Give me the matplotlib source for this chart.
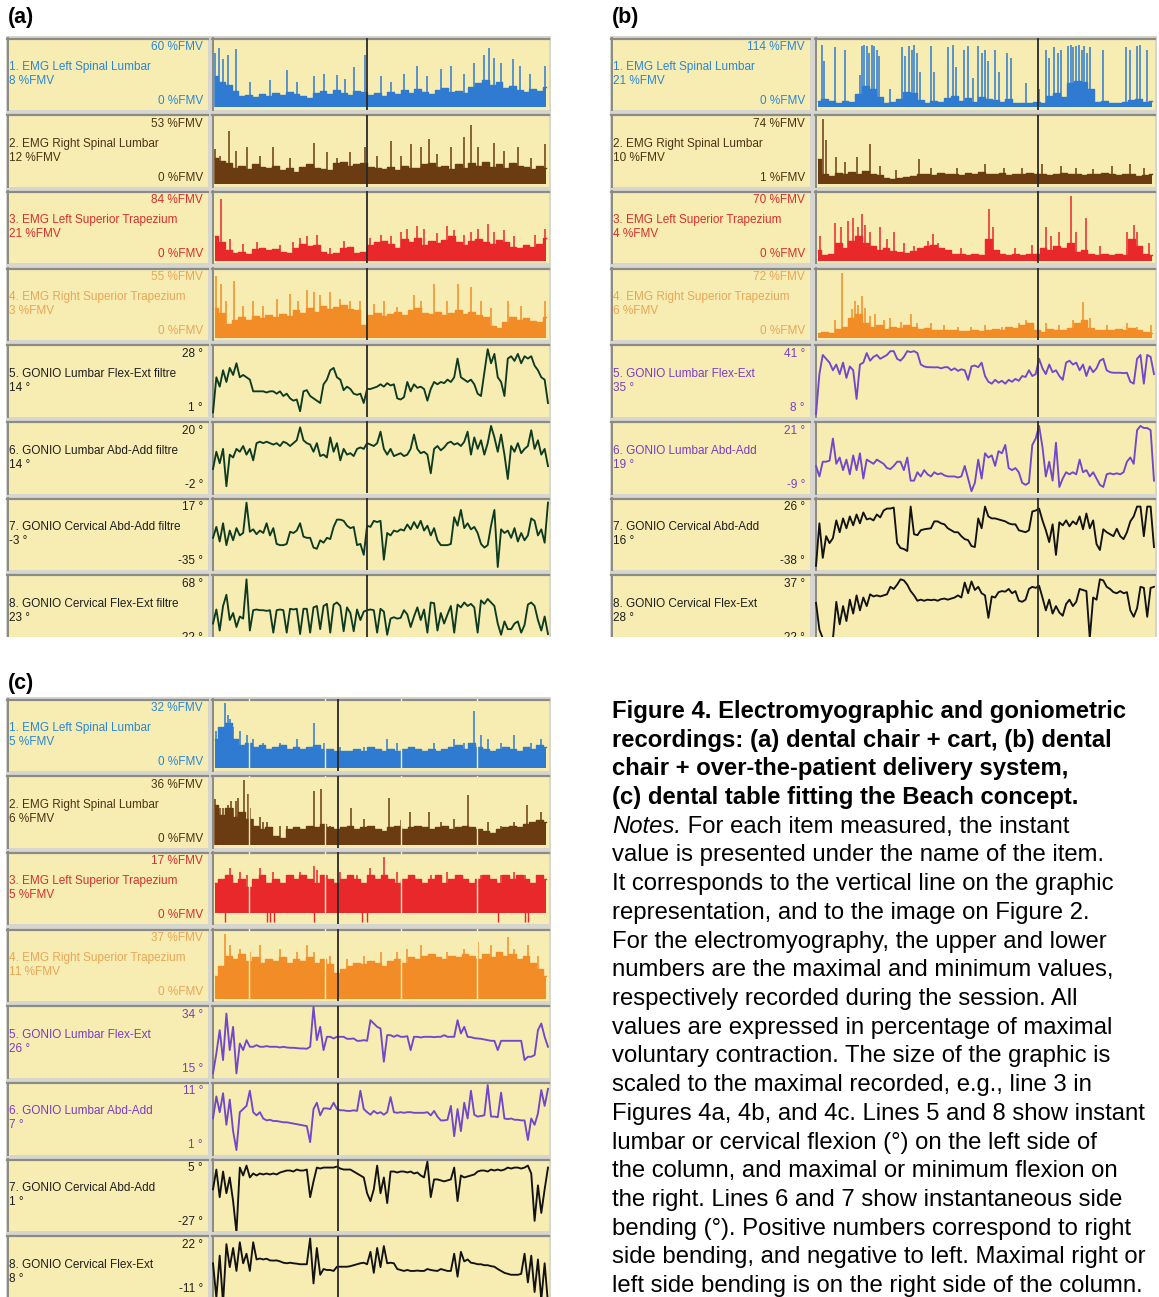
import matplotlib
matplotlib.use("Agg")
import matplotlib.pyplot as plt
import numpy as np
from matplotlib.patches import Rectangle

W, H = 1159, 1297
plt.rcParams['font.family'] = ['Liberation Sans', 'DejaVu Sans']

# ---------------- data ----------------
# labels
names_a = ["1. EMG Left Spinal Lumbar", "2. EMG Right Spinal Lumbar",
           "3. EMG Left Superior Trapezium", "4. EMG Right Superior Trapezium",
           "5. GONIO Lumbar Flex-Ext filtre", "6. GONIO Lumbar Abd-Add filtre",
           "7. GONIO Cervical Abd-Add filtre", "8. GONIO Cervical Flex-Ext filtre"]
names_bc = ["1. EMG Left Spinal Lumbar", "2. EMG Right Spinal Lumbar",
            "3. EMG Left Superior Trapezium", "4. EMG Right Superior Trapezium",
            "5. GONIO Lumbar Flex-Ext", "6. GONIO Lumbar Abd-Add",
            "7. GONIO Cervical Abd-Add", "8. GONIO Cervical Flex-Ext"]

a_hi = [60, 53, 84, 55, 28, 20, 17, 68]
a_lo = [0, 0, 0, 0, 1, -2, -35, -22]
a_now = [8, 12, 21, 3, 14, 14, -3, 23]
b_hi = [114, 74, 70, 72, 41, 21, 26, 37]
b_lo = [0, 1, 0, 0, 8, -9, -38, -22]
b_now = [21, 10, 4, 6, 35, 19, 16, 28]
c_hi = [32, 36, 17, 37, 34, 11, 5, 22]
c_lo = [0, 0, 0, 0, 15, 1, -27, -11]
c_now = [5, 6, 5, 11, 26, 7, 1, 8]

# cursor position, % of the trace width
a_cursor = 46.0
b_cursor = 65.6
c_cursor = 37.4
# gaps in the EMG records of (c)
c_gaps = [10.8, 33.4, 56.1, 78.8]

# EMG: body level (50 samples) + spikes (x %, height)
a1_body = [28, 22, 20, 14, 9, 10, 8, 11, 9, 12, 10, 13, 11, 9, 7, 12, 14, 11, 15, 12,
           10, 14, 13, 10, 12, 9, 13, 11, 15, 12, 16, 13, 11, 15, 17, 13, 14, 12, 18, 21,
           24, 20, 22, 17, 19, 15, 13, 16, 14, 18]
a1_sx = [0.5, 1.8, 3, 4.5, 6.8, 11, 17, 22, 25, 30, 33, 37, 39.5, 42, 45.5, 50, 53, 57, 61, 64,
         68, 71, 75, 78, 81, 82.5, 84, 86, 89.5, 91.5, 94.5, 99]
a1_sh = [50, 55, 44, 48, 54, 22, 24, 34, 22, 28, 30, 29, 25, 37, 48, 28, 22, 30, 38, 28,
         35, 38, 30, 40, 48, 55, 45, 40, 44, 38, 30, 38]

a2_body = [20, 18, 16, 12, 14, 11, 15, 13, 12, 14, 10, 12, 9, 13, 15, 12, 11, 10, 16, 17,
           14, 15, 16, 13, 12, 11, 13, 10, 14, 12, 12, 15, 16, 13, 14, 11, 15, 12, 16, 14,
           17, 13, 15, 12, 16, 14, 13, 11, 14, 12]
a2_sx = [0.5, 2, 4.7, 7, 10, 14, 18, 23, 30, 34, 37, 41, 45.5, 49, 53, 56, 59, 62, 64.5, 67,
         71, 75, 77, 79, 84, 87, 91, 95, 99]
a2_sh = [28, 22, 43, 26, 30, 22, 30, 20, 33, 25, 20, 25, 30, 22, 35, 22, 32, 30, 36, 24,
         30, 38, 48, 30, 33, 26, 30, 20, 32]

a3_body = [30, 22, 12, 8, 9, 7, 13, 15, 12, 13, 9, 8, 15, 20, 17, 19, 9, 7, 8, 14,
           16, 8, 9, 18, 22, 24, 20, 15, 26, 22, 28, 18, 24, 21, 25, 30, 22, 18, 24, 27,
           23, 20, 25, 22, 16, 14, 18, 16, 20, 28]
a3_sx = [2.5, 5, 9, 13, 20, 24, 26, 28, 31, 35, 39, 47, 50, 53, 56, 58, 61, 63, 67, 70,
         72, 75, 77, 79, 82, 84, 87, 90, 96, 99]
a3_sh = [80, 26, 20, 22, 18, 22, 28, 30, 32, 15, 24, 28, 32, 30, 36, 40, 44, 40, 35, 44,
         38, 32, 36, 40, 46, 36, 38, 30, 32, 40]

a4_body = [24, 20, 10, 14, 16, 14, 17, 15, 18, 16, 19, 17, 22, 20, 24, 21, 26, 23, 25, 27,
           23, 22, 9, 18, 20, 17, 19, 21, 18, 22, 24, 20, 19, 21, 18, 20, 22, 19, 21, 18,
           16, 8, 7, 12, 16, 14, 15, 13, 12, 16]
a4_sx = [1, 2.5, 4, 6.2, 9, 12, 15, 19, 23, 25.5, 28, 30, 32, 35, 38, 41, 44, 48, 51, 55,
         60, 62, 66, 70, 73, 77, 80, 83, 88, 92, 99]
a4_sh = [52, 45, 30, 48, 26, 30, 26, 32, 36, 30, 40, 38, 35, 38, 32, 30, 30, 28, 30, 25,
         35, 30, 45, 30, 45, 42, 30, 24, 30, 26, 30]

b1_body = [8, 12, 8, 5, 8, 6, 20, 35, 30, 15, 5, 6, 12, 25, 22, 10, 5, 8, 6, 14,
           18, 8, 14, 6, 16, 12, 10, 6, 12, 5, 4, 4, 6, 5, 18, 22, 15, 40, 45, 42,
           30, 6, 8, 5, 4, 6, 10, 12, 6, 8]
b1_sx = [1.8, 2.5, 5.5, 8.7, 13, 13.5, 14.2, 15, 15.8, 16.5, 17.2, 18, 18.6, 22, 25.5,
         26.3, 27.5, 28.3, 29, 30, 30.7, 34, 35, 39, 40.5, 41.5, 43.8, 45, 46.5, 48,
         49, 50, 51, 53, 54, 56.6, 57.7, 62, 66, 68, 69, 70.5, 71.5, 72.5, 74.5,
         75.3, 76, 77, 77.8, 78.6, 79.4, 80.2, 81, 85, 91.7, 92.8, 95, 96, 98]
b1_sh = [110, 80, 105, 100, 55, 108, 110, 108, 95, 110, 108, 100, 90, 30, 105,
         90, 108, 100, 110, 95, 60, 108, 60, 105, 110, 70, 100, 108, 50, 108,
         95, 100, 80, 100, 60, 95, 85, 40, 30, 100, 85, 105, 95, 100, 108,
         110, 105, 108, 110, 100, 108, 95, 105, 100, 105, 100, 108, 110, 100]

b2_body = [28, 10, 8, 12, 10, 13, 11, 14, 10, 9, 6, 5, 6, 7, 8, 10, 11, 9, 12, 10,
           11, 9, 12, 10, 13, 11, 10, 12, 9, 11, 10, 12, 10, 11, 9, 10, 12, 11, 10, 9,
           11, 10, 12, 10, 9, 11, 10, 8, 9, 10]
b2_sx = [2.1, 3, 6, 8.7, 12, 16, 19, 23.6, 30.5, 34, 41.7, 50, 55.5, 61, 67, 72.5, 77, 82,
         87.5, 92.8, 97]
b2_sh = [74, 50, 30, 25, 30, 45, 20, 15, 28, 18, 18, 22, 18, 18, 22, 20, 18, 16, 20, 22, 18]

b3_body = [10, 4, 6, 18, 12, 20, 25, 18, 14, 10, 12, 9, 8, 7, 9, 12, 14, 16, 12, 10,
           6, 5, 4, 5, 4, 22, 10, 5, 4, 5, 4, 6, 5, 12, 10, 14, 12, 18, 8, 10,
           5, 4, 5, 4, 5, 4, 22, 14, 5, 4]
b3_sx = [1.2, 5.5, 7.5, 9.5, 11, 12.5, 13.5, 14.5, 16, 19, 21, 23, 26, 29, 33, 34.5, 36, 43,
         51.3, 52.5, 59, 64, 68, 69.5, 72, 75.5, 77, 80, 84, 92, 94, 95, 98.5]
b3_sh = [25, 40, 35, 42, 45, 35, 50, 38, 30, 35, 22, 30, 18, 14, 20, 28, 18, 12,
         55, 35, 12, 15, 35, 25, 30, 70, 30, 45, 14, 30, 38, 30, 18]

b4_body = [3, 4, 3, 8, 10, 20, 25, 15, 10, 12, 8, 10, 9, 12, 10, 8, 9, 7, 6, 7,
           6, 5, 5, 6, 5, 6, 8, 7, 10, 9, 12, 14, 6, 4, 8, 6, 7, 9, 15, 18,
           9, 7, 6, 7, 8, 7, 9, 7, 4, 3]
b4_sx = [5.5, 7.6, 10.5, 11.5, 12.5, 13.5, 14.5, 16, 17.5, 20, 22, 25, 28, 30, 34, 38, 42,
         46, 50, 55, 60, 62, 68, 72, 76, 79, 81, 86, 92, 95, 99]
b4_sh = [18, 72, 30, 40, 35, 45, 32, 22, 25, 18, 20, 16, 25, 14, 14, 12, 10,
         10, 12, 10, 14, 18, 14, 12, 18, 38, 20, 12, 14, 10, 12]

c1_body = [14, 20, 22, 14, 11, 12, 10, 11, 9, 10, 11, 9, 10, 9, 10, 11, 9, 9, 8, 8,
           8, 9, 8, 10, 9, 8, 9, 8, 9, 10, 9, 8, 9, 8, 9, 10, 11, 9, 12, 10,
           9, 8, 9, 10, 9, 8, 10, 9, 11, 10]
c1_sx = [1, 3.7, 4.5, 5, 6, 8, 10, 12, 15, 20, 25, 30, 33, 38, 45, 52, 55, 60, 66, 72,
         75, 78, 80, 82, 86, 90, 95, 98]
c1_sh = [18, 32, 26, 24, 20, 18, 16, 14, 12, 12, 14, 22, 12, 10, 10, 14, 12, 10, 12, 14,
         12, 28, 16, 14, 12, 16, 12, 14]

c2_body = [22, 16, 20, 15, 18, 14, 10, 8, 9, 4, 3, 8, 9, 8, 10, 9, 11, 9, 8, 9,
           10, 8, 9, 10, 8, 7, 9, 10, 8, 9, 10, 9, 8, 9, 10, 8, 9, 10, 9, 8,
           7, 6, 8, 9, 10, 9, 11, 12, 13, 12]
c2_sx = [0.5, 1, 2, 3, 4.5, 5.5, 6, 7, 7.5, 9.2, 10.5, 11, 12, 14, 15, 16, 20, 22, 30.2, 32.3,
         35, 41.3, 45, 52.6, 56, 58.7, 64.6, 68, 72, 76.2, 82, 86, 90, 93.7, 97.9]
c2_sh = [25, 22, 20, 20, 22, 24, 20, 24, 26, 36, 28, 20, 14, 15, 12, 12, 10, 10, 30, 31,
         10, 20, 14, 26, 13, 18, 18, 12, 14, 27.5, 12, 10, 12, 22, 18]

c3_body = [10, 11, 12, 10, 11, 9, 11, 12, 10, 11, 10, 12, 11, 12, 11, 10, 12, 11, 10, 11,
           12, 11, 10, 12, 11, 12, 11, 10, 11, 12, 11, 10, 11, 12, 10, 11, 12, 11, 10, 11,
           12, 11, 10, 12, 11, 12, 11, 10, 12, 11]
c3_sx = [5, 8, 10, 14, 18, 22, 26, 30, 31, 34, 38, 43, 47, 51, 55, 60, 65, 70, 75, 80,
         86, 90, 93, 97]
c3_sh = [14, 13, 12, 14, 13, 12, 13, 14.5, 13.5, 12, 13, 12, 14, 17, 13, 12, 12, 13, 11, 12,
         12, 13, 12, 11]
c3_floor = 2
c3_dips = [3.5, 16, 17, 18.3, 30, 44.5, 46, 85, 93, 94]

c4_body = [12, 18, 24, 22, 25, 21, 23, 20, 22, 21, 23, 20, 22, 21, 23, 20, 22, 19, 14, 16,
           18, 20, 19, 21, 20, 18, 21, 22, 20, 23, 22, 24, 25, 23, 22, 24, 23, 25, 24, 22,
           25, 23, 26, 24, 25, 22, 24, 20, 16, 12]
c4_sx = [3.5, 5, 8, 11, 14, 20, 25, 28, 30, 35, 40, 45, 50, 55, 58, 62, 65, 70, 75, 79,
         83, 88, 90, 94, 97]
c4_sh = [37, 30, 28, 26, 30, 28, 26, 30, 26, 24, 22, 24, 26, 26, 28, 30, 24, 26, 28, 32,
         30, 35, 28, 30, 24]

# goniometers: 101 samples, degrees
a5 = [1, 16, 12, 19, 14, 20, 17, 22, 16, 17, 16, 15, 10, 10, 10, 10, 9.5, 10, 10, 9,
      10, 8, 9, 7, 6, 6.5, 1.5, 10, 10.5, 8, 7, 6, 5, 13, 15, 19, 20, 16, 15, 10.5,
      12, 11, 9, 8.5, 9, 5, 11, 11, 11.5, 12, 13, 12, 13.5, 12.5, 13, 7, 6.5, 7.5, 14, 10,
      13, 11.5, 12, 11, 6, 11, 14, 13, 14, 13.5, 15, 14, 16, 24, 16, 15, 14, 15, 13, 9,
      8, 18, 28, 22, 26, 16, 14, 8, 24, 25, 23, 26, 22, 25, 24, 25, 21, 19, 16, 15, 5]
a6 = [5, 11, 7, 12, -1, 10, 9, 12, 11, 13, 10, 12, 8, 14, 14.5, 14, 14.5, 14, 13.5, 14,
      13, 14.5, 14, 13, 14, 15, 19.5, 15, 14, 13.5, 11, 14, 9.5, 10, 9, 16, 11, 14, 8, 12,
      10, 10.5, 9.5, 12, 12.5, 12, 14, 13.5, 13, 14, 18, 12, 10, 12, 9.5, 10, 10.5, 9.5, 10, 12,
      17, 12, 10.5, 11, 10, 3.5, 12, 13, 11.5, 12.5, 14, 14.5, 13.5, 14, 13, 14.5, 18, 10, 16, 12,
      15, 10, 14, 20, 16, 11, 17, 10, 1.5, 13, 11, 14, 10.5, 12, 13, 18.5, 12, 15, 10, 12, 6]
a7 = [-12, -3, -15, 0, -18, -6, -14, -4, -10, -8, 17, -7, -5, -9, -6, -8, 0, -10, -4, -17,
      -18, -18, -17, -7, -8, -6, 0, -11, -12, -12, -20, -21, -14, -16, -12, -13, -3, 3, 3, 2,
      -2, -4, -3, -18, -17, -26, -2, -3, 2, 1, 2, -30, -8, -10, -6, -7, -5, -6, -1, -5,
      1, -4, 2, -6, -2, -10, -4, -14, -18, -18, -18, -17, 5, -2, 11, -4, 0, -5, -3, -8,
      -17, -20, -18, -2, 11, -36, -5, -8, -6, -12, -4, -15, -8, -14, -10, 4, 2, -10, -5, -16, 17]
a8 = [5, 25, -5, 30, 46, 10, 20, 0, 15, 12, 68, -5, 24, 25, 24, 24, 23, 24, -8, 24,
      25, 24, -8, 26, 25, 26, -10, 26, 26, -8, 28, 30, -3, 30, 33, -8, 32, 35, 30, -6,
      28, 20, -6, 25, 10, 22, 24, 25, 24, -8, 26, 22, -11, 12, 14, 12, 13, 24, 18, 0,
      15, 28, 10, 25, -8, 35, 34, -5, 20, 5, 18, 30, -8, 32, 28, 35, 30, 33, 28, -8,
      38, 33, 40, 35, 30, 5, -11, 8, -3, -3, 5, 8, -8, 3, 32, 35, 30, 10, -5, 15, -10]

b5 = [7, 28, 38, 36, 34, 30, 33, 28, 34, 26, 32, 30, 15, 33, 34, 39, 35, 37, 38, 36,
      37, 38, 40, 40, 36, 35, 37, 40, 39.5, 40, 39, 33, 32, 31.6, 31.6, 31.5, 31.6, 31, 31.6, 31.6,
      30, 31, 29.7, 30.5, 30, 25, 32, 32.5, 31.6, 34, 27, 24, 23, 25, 23.5, 24.5, 23, 25, 24, 25.5,
      24.5, 27, 26.5, 30, 27, 28, 36, 31, 28, 33, 29, 30, 27, 25, 34, 35, 33, 34, 30, 33,
      27, 32, 29, 31, 35, 36, 30, 29, 28.7, 28.7, 28.7, 28.5, 28.7, 24, 23, 36, 38, 23, 38, 37, 28]
b6 = [2, -3, 4, 4, 4.5, 15, 3, 6, 0, 5, -2, 7, 0, 8, -4, 5, 4, 3, 5, 4,
      3, 1, 0.5, 2, 4, 4, 0, 6, -5, -5, -1, -3, 0, -2, -3, -1, -2, -1.5, -2.5, -3,
      -3, -3, -3.5, -3, 2, -4, -10, -6, 5, -4, 8, 6, 7, 2, 9, 8, 12, 1, 0, 1,
      -1, -6, -7, -6, 12, 15, 21, 11, -3, 4, -5, 13, -8, -4, -1, -2, -1, -2, 5, -1,
      0, -3, -1, -4, -7, -8, -2, -1.5, -2, -1.5, -2, -1, 4, 6, 3, 19, 21, 20, 20, 19, -5]
b7 = [-38, 5, -30, -8, -15, -10, 8, -4, 10, 0, 12, 3, 14, 5, 16, 9, 10, 8, 14, 11,
      18, 20, 20, 21, -15, -20, -21, -23, 22, -6, -7, -2, -1, -0.5, 0, 7, 7, 5, 4, 0,
      -2, -4, -4, -8, -11, -12, -18, -19, 10, 0, 22, 12, 10, 10, 9, 8, 7, 5, 4, 4,
      -2, -3, -4, -2, 17, 18, 20, 8, -2, -14, 4, -27, 6, 3, 8, 2, 7, 4, 12, -1,
      15, 0, 8, -16, -22, -1, -4, -6, -8, -0.5, -8, -11, -4, 7, 12, 22, 22, -8, 22, 22, -19]
b8 = [15, -10, -18, -19, -18, -19, 16, -5, 12, -2, 18, 5, 22, 8, 20, 12, 23, 21, 22, 21,
      22, 23, 30, 28, 32, 37, 36, 32, 26, 22, 17, 18, 17, 18, 17.5, 18, 17, 18.5, 19, 18,
      19, 20, 22, 20, 34, 24, 35, 27, 30, 24, 22, 1, 21, 20, 25, 26, 25.5, 28, 24, 26,
      17, 16, 18, 28, 30, 29, 31, 20, 8, 18, 5, 12, 6, 3, 14, 18, 12, 16, 28, 27,
      26, -18, 20, 18, 37, 36, 30, 28, 25, 24, 26, 24, 25, 8, 2, 10, 30, 29, 2, 29, 30]

c5 = [15, 21, 28, 19, 33, 22, 29, 15, 24, 22, 25, 23, 23, 23.5, 23, 23, 23.2, 23, 23, 23,
      22.8, 23, 22.8, 22.7, 22.7, 22.6, 22.5, 22.5, 22.4, 23, 35, 25, 29, 22, 26, 26, 25.5, 26, 26, 26,
      25.4, 25.4, 25.5, 24.8, 24.8, 25, 24.8, 31, 30, 29, 28.5, 18.5, 26.5, 26.5, 26, 26.5, 26, 26, 26.2, 22,
      26, 26, 25.8, 26, 26, 26, 25.9, 26, 26, 26.5, 26, 26, 26, 31, 27, 29, 26, 25.9, 25.6, 25.5,
      25.4, 25.2, 25, 24.8, 24.8, 22, 24.8, 24.8, 24.8, 24.8, 24.8, 24.8, 24.8, 19, 20, 20, 20.5, 28, 30, 26, 23]
c6 = [6, 9.5, 7, 10, 5, 9, 4, 1, 7, 7.5, 8, 10.4, 7, 6.5, 7, 6, 5.7, 5.8, 5.6, 5.6,
      5.5, 5.4, 5.4, 5.3, 5.2, 5.1, 5.0, 4.9, 4.8, 2.25, 7.5, 8.5, 6.5, 7.6, 7.6, 7.5, 8.5, 7.5, 7.3, 7.3,
      7.2, 7.2, 7.3, 7.2, 10.4, 7.5, 7, 6.6, 7.2, 6.8, 7, 6.6, 7, 9.4, 7, 6.9, 7, 6.9, 7, 7,
      6.9, 6.9, 6.9, 6.9, 7, 6.5, 7.2, 6.3, 5.7, 5.7, 5.8, 8, 3.2, 7.5, 4, 8.5, 6, 10.4, 6.6, 6.3,
      6.4, 6.5, 11.3, 6.3, 6.3, 6.2, 10.1, 6, 5.9, 6, 5.8, 5.8, 5.7, 5.7, 2.6, 6, 5, 6.8, 10.5, 8, 10.7]
c7 = [-8, 2, -12, 1, -10, -2, -14, -30, 3, -1, 4, -2, 0, -1, 0, -0.5, 0, -0.5, 0, -0.5,
      0.5, 1, 1.5, 1.5, 1, 2, 1.5, 1.5, 2, -12, -4, 3, 2.5, 3, 3, 3, 3, 3.5, 2.5, 2,
      2, 2, 1, 0, -1, -2, -10, -14, -8, 4, -10, -2, -15, 1, 1, 0.5, 1, 1, 0.5, 1,
      0, 0.5, -1, -2, 6, -12, -3, -3, -3.5, -4, -3.5, -3, 3, -14, -1, -2, -1.5, -1, -0.5, 1,
      1.5, 1.5, 1, 2, 1.5, 2, 1.5, 2, 3, 2.5, 3, 3, 2.5, 3, 4, 0, -24, -6, -20, -8, 3]
c8 = [10, -8, 14, -11, 20, 8, 18, 6, 21, 10, 15, 6, 21, 12, 12.5, 12, 12.4, 11.5, 11.4, 11.5,
      11, 10.3, 10, 10.3, 10, 9.8, 9.5, 9.5, 9.5, 23, -0.5, 18, 4, 7, 6.5, 6.5, 6, 8.2, 8.2, 8.2,
      8.2, 8.5, 9, 9.5, 10, 10.3, 9.5, 16, 5, 18, 8, 19, 10, 10.3, 10, 7, 6.5, 6, 6.5, 6,
      6, 6.2, 6, 6, 7, 6.5, 6.2, 6, 7, 6.5, 6, 6, 15, 3, 16, 11, 12, 10.3, 10, 9.5,
      9.5, 9, 9, 8.5, 8.2, 7, 6, 5, 4.5, 4, 4, 4, 4.5, 15, 0, 14, -5, 12, -9, 10, -11]

caption = [
    ("Figure 4. Electromyographic and goniometric", 'bold'),
    ("recordings: (a) dental chair + cart, (b) dental", 'bold'),
    ("chair + over-the-patient delivery system,", 'bold'),
    ("(c) dental table fitting the Beach concept.", 'bold'),
    (" For each item measured, the instant", 'notes'),
    ("value is presented under the name of the item.", 'normal'),
    ("It corresponds to the vertical line on the graphic", 'normal'),
    ("representation, and to the image on Figure 2.", 'normal'),
    ("For the electromyography, the upper and lower", 'normal'),
    ("numbers are the maximal and minimum values,", 'normal'),
    ("respectively recorded during the session. All", 'normal'),
    ("values are expressed in percentage of maximal", 'normal'),
    ("voluntary contraction. The size of the graphic is", 'normal'),
    ("scaled to the maximal recorded, e.g., line 3 in", 'normal'),
    ("Figures 4a, 4b, and 4c. Lines 5 and 8 show instant", 'normal'),
    ("lumbar or cervical flexion (°) on the left side of", 'normal'),
    ("the column, and maximal or minimum flexion on", 'normal'),
    ("the right. Lines 6 and 7 show instantaneous side", 'normal'),
    ("bending (°). Positive numbers correspond to right", 'normal'),
    ("side bending, and negative to left. Maximal right or", 'normal'),
    ("left side bending is on the right side of the column.", 'normal'),
]

# ---------------- styles ----------------
YELLOW = '#f7edb2'
FRAME = '#d6d6cf'
EDGE = '#8a8a86'
EMG_LINE = ['#2f7bd2', '#6b3b12', '#e8282a', '#f28c26']
EMG_TEXT = ['#2a86d6', '#4d3212', '#d8302a', '#e9a657']
GREEN = '#0d3b22'
PURPLE = '#6f48cc'
PURPLE_TXT = '#7b3cc4'
BLACK = '#121212'

ROW_STEP = 76.7
ROW_H = 72

fig = plt.figure(figsize=(W / 100, H / 100), dpi=100)
fig.patch.set_facecolor('white')

back = fig.add_axes([0, 0, 1, 1])
back.set_xlim(0, W)
back.set_ylim(H, 0)
back.axis('off')


def px_axes(x0, y0, x1, y1, **kw):
    return fig.add_axes([x0 / W, 1 - y1 / H, (x1 - x0) / W, (y1 - y0) / H], **kw)


def draw_emg(ax, body, sx, sh, lo, hi, color, floor=None, dips=None):
    rng = hi - lo
    base = lo - 0.03 * rng
    xb = np.linspace(0.5, 99.5, len(body))
    bottom = base if floor is None else floor
    # plateau-like envelope, as the acquisition software draws it
    ax.fill_between(xb, bottom, body, step='mid', color=color, lw=0)
    ax.plot(xb, body, drawstyle='steps-mid', color=color, lw=1.0)
    ax.vlines(sx, bottom, sh, color=color, lw=1.1)
    if dips:
        ax.vlines(dips, base, bottom + 1, color=color, lw=1.0)
    ax.set_ylim(lo - 0.07 * rng, hi + 0.07 * rng)


def draw_gonio(ax, vals, lo, hi, color):
    rng = hi - lo
    ax.plot(np.linspace(0, 100, len(vals)), vals, color=color, lw=1.35)
    ax.set_ylim(lo - 0.07 * rng, hi + 0.07 * rng)


panels = [
    dict(tag='(a)', tag_xy=(8, 17), lab=(7, 208), trc=(212, 549), top=38,
         names=names_a, hi=a_hi, lo=a_lo, now=a_now, cursor=a_cursor,
         emg=[(a1_body, a1_sx, a1_sh), (a2_body, a2_sx, a2_sh),
              (a3_body, a3_sx, a3_sh), (a4_body, a4_sx, a4_sh)],
         gonio=[a5, a6, a7, a8], gcol=[GREEN] * 4, gtxt=['#1e1e1e'] * 4, gaps=[]),
    dict(tag='(b)', tag_xy=(612, 17), lab=(611, 810), trc=(815, 1155), top=38,
         names=names_bc, hi=b_hi, lo=b_lo, now=b_now, cursor=b_cursor,
         emg=[(b1_body, b1_sx, b1_sh), (b2_body, b2_sx, b2_sh),
              (b3_body, b3_sx, b3_sh), (b4_body, b4_sx, b4_sh)],
         gonio=[b5, b6, b7, b8], gcol=[PURPLE, PURPLE, BLACK, BLACK],
         gtxt=[PURPLE_TXT, PURPLE_TXT, '#1e1e1e', '#1e1e1e'], gaps=[]),
    dict(tag='(c)', tag_xy=(8, 683), lab=(7, 208), trc=(212, 549), top=699,
         names=names_bc, hi=c_hi, lo=c_lo, now=c_now, cursor=c_cursor,
         emg=[(c1_body, c1_sx, c1_sh), (c2_body, c2_sx, c2_sh),
              (c3_body, c3_sx, c3_sh), (c4_body, c4_sx, c4_sh)],
         gonio=[c5, c6, c7, c8], gcol=[PURPLE, PURPLE, BLACK, BLACK],
         gtxt=[PURPLE_TXT, PURPLE_TXT, '#1e1e1e', '#1e1e1e'], gaps=c_gaps),
]

label_texts = []
for p in panels:
    lx0, lx1 = p['lab']
    tx0, tx1 = p['trc']
    top = p['top']
    back.add_patch(Rectangle((lx0 - 1, top - 2), tx1 - lx0 + 3, 8 * ROW_STEP + 2,
                             color=FRAME, lw=0))
    back.text(p['tag_xy'][0], p['tag_xy'][1], p['tag'], fontsize=15.5, fontweight='bold',
              ha='left', va='center', color='black')
    for i in range(8):
        T = top + i * ROW_STEP
        for (x0, x1) in [(lx0, lx1), (tx0, tx1)]:
            back.add_patch(Rectangle((x0, T), x1 - x0, ROW_H, color=YELLOW, lw=0))
            back.plot([x0, x1], [T + 0.5, T + 0.5], color=EDGE, lw=1.6)
            back.plot([x0 + 0.5, x0 + 0.5], [T, T + ROW_H], color=EDGE, lw=1.4)
        ax = px_axes(tx0, T, tx1, T + ROW_H)
        ax.axis('off')
        ax.set_xlim(-0.3, 100.3)
        lo, hi = p['lo'][i], p['hi'][i]
        if i < 4:
            body, sx, sh = p['emg'][i]
            floor, dips = None, None
            if p['tag'] == '(c)' and i == 2:
                floor, dips = c3_floor, c3_dips
            draw_emg(ax, body, sx, sh, lo, hi, EMG_LINE[i], floor, dips)
            for g in p['gaps']:
                ax.axvline(g, color=YELLOW, lw=1.0)
            unit = ' %FMV'
            tcol = EMG_TEXT[i]
        else:
            draw_gonio(ax, p['gonio'][i - 4], lo, hi, p['gcol'][i - 4])
            unit = ' °'
            tcol = p['gtxt'][i - 4]
        ax.axvline(p['cursor'], color='#2a2a2a', lw=1.3)
        label_texts.append((lx1 - 5, T + 9, f"{hi}{unit}", 'right', tcol))
        label_texts.append((lx0 + 2, T + 29, p['names'][i], 'left', tcol))
        label_texts.append((lx0 + 2, T + 43, f"{p['now'][i]}{unit}", 'left', tcol))
        # the last row of (c) runs past the page edge: keep its lower value inside
        label_texts.append((lx1 - 5, min(T + 63, H - 8), f"{lo}{unit}", 'right', tcol))

# top layer: labels, cut of panels (a)/(b), caption
front = fig.add_axes([0, 0, 1, 1], zorder=50)
front.set_xlim(0, W)
front.set_ylim(H, 0)
front.axis('off')
for (x, y, s, ha, col) in label_texts:
    front.text(x, y, s, fontsize=8.5, ha=ha, va='center', color=col)
front.add_patch(Rectangle((0, 637), W, 30, color='white', lw=0, zorder=5))

renderer = fig.canvas.get_renderer()
cap_x, cap_y0, cap_step = 612, 718, 28.7
for k, (line, kind) in enumerate(caption):
    y = cap_y0 + k * cap_step
    if kind == 'notes':
        t = front.text(cap_x, y, "Notes.", fontsize=17.2, style='italic',
                       ha='left', va='baseline', color='black')
        bb = t.get_window_extent(renderer=renderer)
        front.text(bb.x1, y, line, fontsize=17.2, ha='left', va='baseline', color='black')
    else:
        front.text(cap_x, y, line, fontsize=17.2, ha='left', va='baseline', color='black',
                   fontweight='bold' if kind == 'bold' else 'normal')

fig.savefig('out.png', dpi=100, facecolor='white')
